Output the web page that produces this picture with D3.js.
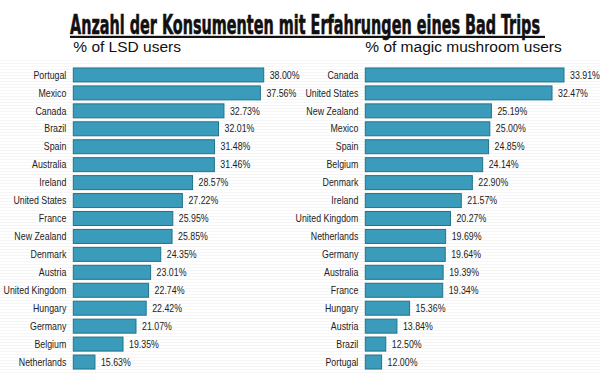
<html>
	<head>
		<meta charset="utf-8">
		<title>Bad Trips</title>
	</head>
	<style>
		body { margin: 0; background: #fff; }
	</style>
	<body>
		<script src="https://cdn.jsdelivr.net/npm/d3@7"></script>
		<script>
			var width = 600;
			var height = 375;

			// LSD panel
			var lsdCountries = ["Portugal", "Mexico", "Canada", "Brazil", "Spain", "Australia", "Ireland",
				"United States", "France", "New Zealand", "Denmark", "Austria", "United Kingdom",
				"Hungary", "Germany", "Belgium", "Netherlands"];
			var lsdValues = [38.00, 37.56, 32.73, 32.01, 31.48, 31.46, 28.57, 27.22, 25.95, 25.85,
				24.35, 23.01, 22.74, 22.42, 21.07, 19.35, 15.63];

			// magic mushroom panel
			var shroomCountries = ["Canada", "United States", "New Zealand", "Mexico", "Spain", "Belgium",
				"Denmark", "Ireland", "United Kingdom", "Netherlands", "Germany", "Australia", "France",
				"Hungary", "Austria", "Brazil", "Portugal"];
			var shroomValues = [33.91, 32.47, 25.19, 25.00, 24.85, 24.14, 22.90, 21.57, 20.27, 19.69,
				19.64, 19.39, 19.34, 15.36, 13.84, 12.50, 12.00];

			var title = "Anzahl der Konsumenten mit Erfahrungen eines Bad Trips";
			var subtitles = ["% of LSD users", "% of magic mushroom users"];

			var svg = d3.select("body")
				.append("svg")
				.attr("width", width)
				.attr("height", height);

			// faint striped background
			svg.append("g")
				.selectAll("line")
				.data(d3.range(60, height, 3))
				.enter()
				.append("line")
				.attr("x1", 0).attr("x2", width)
				.attr("y1", function(d) { return d + 0.5; })
				.attr("y2", function(d) { return d + 0.5; })
				.attr("stroke", "#f6f6f6")
				.attr("stroke-width", 1);

			// title
			svg.append("text")
				.attr("x", 70)
				.attr("y", 33.5)
				.attr("textLength", 470)
				.attr("lengthAdjust", "spacingAndGlyphs")
				.style("font-family", "'DejaVu Sans Condensed', 'DejaVu Sans'")
				.style("font-weight", "bold")
				.style("font-size", "27px")
				.style("stroke", "#111")
				.style("stroke-width", "0.6px")
				.attr("fill", "#111")
				.text(title);
			svg.append("rect")
				.attr("x", 70).attr("y", 35.8)
				.attr("width", 475).attr("height", 2.2)
				.attr("fill", "#111");

			var narrow = 0.84;

			function panel(countries, values, x0, x1, domainStart, vmax, subtitle) {
				var g = svg.append("g");
				var x = d3.scaleLinear().domain([domainStart, vmax]).range([x0, x1]);
				var y = d3.scaleBand().domain(countries).range([66, 371])
					.paddingInner(0.22).paddingOuter(0.11);
				var data = countries.map(function(c, i) { return { name: c, value: values[i] }; });

				g.append("text")
					.attr("x", x0)
					.attr("y", 52)
					.style("font-family", "'Liberation Sans', Arial, sans-serif")
					.style("font-size", "15.5px")
					.attr("fill", "#111")
					.text(subtitle);

				var rows = g.selectAll("g.row")
					.data(data)
					.enter()
					.append("g")
					.attr("class", "row");

				rows.append("rect")
					.attr("x", x0)
					.attr("y", function(d) { return y(d.name); })
					.attr("width", function(d) { return x(d.value) - x0; })
					.attr("height", y.bandwidth())
					.attr("fill", "#3a9bba")
					.attr("stroke", "#20748c")
					.attr("stroke-width", 1);

				// labels squeezed horizontally, like a narrow font
				rows.append("text")
					.attr("transform", function(d) {
						return "translate(" + (x0 - 7) + "," + (y(d.name) + y.bandwidth() / 2) + ") scale(" + narrow + ",1)";
					})
					.attr("dy", "0.35em")
					.attr("text-anchor", "end")
					.style("font-family", "'Liberation Sans', Arial, sans-serif")
					.style("font-size", "10.5px")
					.attr("fill", "#222")
					.text(function(d) { return d.name; });

				rows.append("text")
					.attr("transform", function(d) {
						return "translate(" + (x(d.value) + 6) + "," + (y(d.name) + y.bandwidth() / 2) + ") scale(" + narrow + ",1)";
					})
					.attr("dy", "0.35em")
					.style("font-family", "'Liberation Sans', Arial, sans-serif")
					.style("font-size", "10.5px")
					.attr("fill", "#222")
					.text(function(d) { return d.value.toFixed(2) + "%"; });
			}

			panel(lsdCountries, lsdValues, 73.3, 263.7, 12.76, 38.00, subtitles[0]);
			panel(shroomCountries, shroomValues, 365.3, 564, 10.04, 33.91, subtitles[1]);
		</script>
	</body>
</html>
